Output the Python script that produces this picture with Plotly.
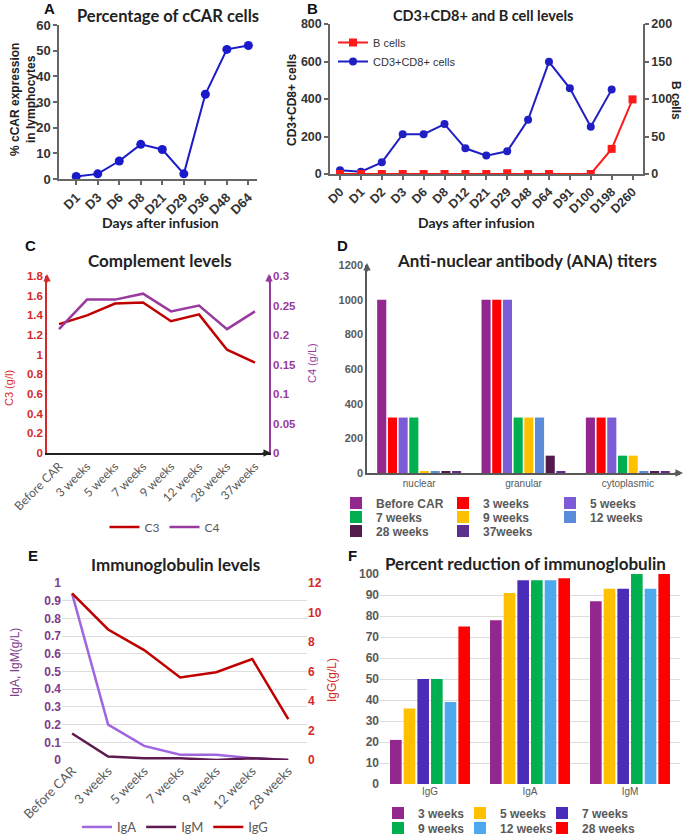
import plotly.graph_objects as go

# ---- data ----
# A: percentage of cCAR cells
a_days = ["D1", "D3", "D6", "D8", "D21", "D29", "D36", "D48", "D64"]
a_ccar = [1, 2, 7, 13.5, 11.5, 2, 33, 50.5, 52]

# B: CD3+CD8+ and B cells
b_days = ["D0", "D1", "D2", "D3", "D6", "D8", "D12", "D21", "D29", "D48",
          "D64", "D91", "D100", "D198", "D260"]
b_cd8 = [20, 12, 62, 212, 212, 266, 137, 98, 121, 289, 598, 457, 252, 450, None]
b_bcells = [0, 0, 0, 0, 0, 0, 0, 0, 1, 0, 0, None, 0, 33.5, 99.5]

# C: complement
c_weeks = ["Before CAR", "3 weeks", "5 weeks", "7 weeks", "9 weeks",
           "12 weeks", "28 weeks", "37weeks"]
c3 = [1.31, 1.40, 1.52, 1.53, 1.34, 1.41, 1.05, 0.92]
c4 = [0.21, 0.26, 0.26, 0.27, 0.24, 0.25, 0.21, 0.24]

# D: ANA titers
d_patterns = ["nuclear", "granular", "cytoplasmic"]
d_before_car = [1000, 1000, 320]
d_3w = [320, 1000, 320]
d_5w = [320, 1000, 320]
d_7w = [320, 320, 100]
d_9w = [10, 320, 100]
d_12w = [10, 320, 10]
d_28w = [10, 100, 10]
d_37w = [10, 10, 10]

# E: immunoglobulin levels
e_weeks = ["Before CAR", "3 weeks", "5 weeks", "7 weeks", "9 weeks",
           "12 weeks", "28 weeks"]
e_iga = [0.94, 0.20, 0.08, 0.03, 0.03, 0.01, 0.0]
e_igm = [0.15, 0.02, 0.01, 0.01, 0.0, 0.01, 0.0]
e_igg = [11.3, 8.85, 7.45, 5.6, 5.95, 6.85, 2.77]

# F: percent reduction
f_igs = ["IgG", "IgA", "IgM"]
f_3w = [21, 78, 87]
f_5w = [36, 91, 93]
f_7w = [50, 97, 93]
f_9w = [50, 97, 100]
f_12w = [39, 97, 93]
f_28w = [75, 98, 100]

W, H = 685, 837


def px(x):
    return x / W


def py(y):
    return 1 - y / H


ARIAL = "Liberation Sans, Arial, sans-serif"
CAL = "Lato, Calibri, sans-serif"
GRAY = "#595959"

fig = go.Figure()

# A
fig.add_trace(go.Scatter(x=a_days, y=a_ccar, mode="lines+markers",
                         line=dict(color="#1a1acc", width=2),
                         marker=dict(size=9, color="#1a1acc"),
                         xaxis="x", yaxis="y", showlegend=False))

# B
fig.add_trace(go.Scatter(x=b_days, y=b_cd8, name="CD3+CD8+ cells",
                         mode="lines+markers",
                         line=dict(color="#1f1fc4", width=2),
                         marker=dict(size=8, color="#1f1fc4"),
                         xaxis="x2", yaxis="y2", legend="legend", legendrank=2))
fig.add_trace(go.Scatter(x=b_days, y=b_bcells, name="B cells",
                         mode="lines+markers", connectgaps=True,
                         line=dict(color="#ff1a1a", width=2),
                         marker=dict(size=8, color="#ff1a1a", symbol="square"),
                         xaxis="x2", yaxis="y3", legend="legend", legendrank=1))

# C
fig.add_trace(go.Scatter(x=c_weeks, y=c3, name="C3", mode="lines",
                         line=dict(color="#c00000", width=2.5),
                         xaxis="x3", yaxis="y4", legend="legend2"))
fig.add_trace(go.Scatter(x=c_weeks, y=c4, name="C4", mode="lines",
                         line=dict(color="#983a9e", width=2.5),
                         xaxis="x3", yaxis="y5", legend="legend2"))

# D
d_series = [
    ("Before CAR", d_before_car, "#92278f", "legend3"),
    ("3 weeks", d_3w, "#ff0000", "legend3"),
    ("5 weeks", d_5w, "#7b5bd6", "legend3"),
    ("7 weeks", d_7w, "#00b050", "legend4"),
    ("9 weeks", d_9w, "#ffc000", "legend4"),
    ("12 weeks", d_12w, "#5b8bdb", "legend4"),
    ("28 weeks", d_28w, "#531b4b", "legend5"),
    ("37weeks", d_37w, "#5d2e8c", "legend5"),
]
for name, vals, col, leg in d_series:
    fig.add_trace(go.Bar(x=d_patterns, y=vals, name=name, marker_color=col,
                         xaxis="x4", yaxis="y6", legend=leg))

# E
fig.add_trace(go.Scatter(x=e_weeks, y=e_iga, name="IgA", mode="lines",
                         line=dict(color="#a066e0", width=2.5),
                         xaxis="x5", yaxis="y7", legend="legend6"))
fig.add_trace(go.Scatter(x=e_weeks, y=e_igm, name="IgM", mode="lines",
                         line=dict(color="#5c1a4f", width=2.5),
                         xaxis="x5", yaxis="y7", legend="legend6"))
fig.add_trace(go.Scatter(x=e_weeks, y=e_igg, name="IgG", mode="lines",
                         line=dict(color="#c00000", width=2.5),
                         xaxis="x5", yaxis="y8", legend="legend6"))

# F (one legend per entry so the 3x2 grid can be placed tightly)
f_series = [
    ("3 weeks", f_3w, "#92278f", "legend7"),
    ("5 weeks", f_5w, "#ffc000", "legend8"),
    ("7 weeks", f_7w, "#4a2cb8", "legend9"),
    ("9 weeks", f_9w, "#00b050", "legend10"),
    ("12 weeks", f_12w, "#4da8ee", "legend11"),
    ("28 weeks", f_28w, "#ff0000", "legend12"),
]
for name, vals, col, leg in f_series:
    fig.add_trace(go.Bar(x=f_igs, y=vals, name=name, marker_color=col,
                         xaxis="x6", yaxis="y9", legend=leg))

tick_a = dict(family=ARIAL, size=13, color="#333333", weight="bold")
tick_b = dict(family=ARIAL, size=12.5, color="#333333", weight="bold")
axline = dict(showline=True, linecolor="#666666", linewidth=1.5,
              ticks="outside", ticklen=4, tickwidth=1.5, tickcolor="#666666",
              showgrid=False, zeroline=False, automargin=False)
plain = dict(automargin=False, zeroline=False)

layout_axes = dict(
    # A
    xaxis=dict(domain=[px(59), px(257)], anchor="y", type="category",
               range=[-0.8, 8.4], tickangle=-45, tickfont=tick_a, **axline),
    yaxis=dict(domain=[py(179), py(25)], anchor="x", range=[0, 60], dtick=10,
               tickfont=tick_a, **axline),
    # B
    xaxis2=dict(domain=[px(330), px(643)], anchor="y2", type="category",
                range=[-0.48, 14.5], tickangle=-45, tickfont=tick_b, **axline),
    yaxis2=dict(domain=[py(174), py(24)], anchor="x2", range=[0, 800], dtick=200,
                tickfont=tick_b, **axline),
    yaxis3=dict(overlaying="y2", anchor="x2", side="right", range=[0, 200],
                dtick=50, tickfont=tick_b, **axline),
    # C
    xaxis3=dict(domain=[px(47), px(269)], anchor="y4", type="category",
                range=[-0.43, 7.5], tickangle=-45, showline=True,
                linecolor="#222222", linewidth=1.5, showgrid=False,
                tickfont=dict(family=CAL, size=12, color=GRAY), **plain),
    yaxis4=dict(domain=[py(453), py(276)], anchor="x3", range=[0, 1.8],
                dtick=0.2, showline=True, linecolor="#d42a2a", linewidth=1.5,
                showgrid=False,
                tickfont=dict(family=ARIAL, size=11.5, color="#d42a2a", weight="bold"),
                **plain),
    yaxis5=dict(overlaying="y4", anchor="x3", side="right", range=[0, 0.3],
                dtick=0.05, showline=True, linecolor="#983a9e", linewidth=1.5,
                showgrid=False,
                tickfont=dict(family=ARIAL, size=11.5, color="#983a9e", weight="bold"),
                **plain),
    # D
    xaxis4=dict(domain=[px(367), px(680)], anchor="y6", type="category",
                showline=True, linecolor="#595959", linewidth=1.5, showgrid=False,
                tickfont=dict(family=ARIAL, size=10, color=GRAY), **plain),
    yaxis6=dict(domain=[py(473), py(265)], anchor="x4", range=[0, 1200],
                dtick=200, showline=True, linecolor="#595959", linewidth=1.5,
                showgrid=False,
                tickfont=dict(family=ARIAL, size=11, color=GRAY, weight="bold"),
                **plain),
    # E
    xaxis5=dict(domain=[px(62), px(307)], anchor="y7", type="category",
                range=[-0.28, 6.52], tickangle=-45, showgrid=False,
                tickfont=dict(family=CAL, size=13, color=GRAY), **plain),
    yaxis7=dict(domain=[py(760), py(583)], anchor="x5", range=[0, 1],
                dtick=0.1, showgrid=True, gridcolor="#dddddd",
                tickfont=dict(family=ARIAL, size=12, color="#7e3a8c", weight="bold"),
                **plain),
    yaxis8=dict(overlaying="y7", anchor="x5", side="right", range=[0, 12],
                dtick=2, showgrid=False,
                tickfont=dict(family=ARIAL, size=12, color="#d42a2a", weight="bold"),
                **plain),
    # F
    xaxis6=dict(domain=[px(380), px(680)], anchor="y9", type="category",
                showgrid=False,
                tickfont=dict(family=ARIAL, size=10, color=GRAY), **plain),
    yaxis9=dict(domain=[py(784), py(574)], anchor="x6", range=[0, 100],
                dtick=10, showgrid=True, gridcolor="#dddddd",
                tickfont=dict(family=ARIAL, size=12, color=GRAY, weight="bold"),
                **plain),
)

leg_common = dict(bgcolor="rgba(0,0,0,0)", orientation="h", xanchor="left",
                  yanchor="middle")
legfont = dict(family=ARIAL, size=12, color=GRAY, weight="bold")
legends = dict(
    legend=dict(x=px(333), y=py(28), xanchor="left", yanchor="top",
                orientation="v", bgcolor="rgba(0,0,0,0)",
                font=dict(family=ARIAL, size=11, color="#333333")),
    legend2=dict(x=px(165), y=py(527), xanchor="center", yanchor="middle",
                 orientation="h", bgcolor="rgba(0,0,0,0)",
                 font=dict(family=CAL, size=12, color=GRAY)),
    legend3=dict(x=px(336), y=py(503), entrywidth=62, font=legfont, **leg_common),
    legend4=dict(x=px(336), y=py(517), entrywidth=62, font=legfont, **leg_common),
    legend5=dict(x=px(336), y=py(531), entrywidth=62, font=legfont, **leg_common),
    legend6=dict(x=px(175), y=py(827), xanchor="center", yanchor="middle",
                 orientation="h", bgcolor="rgba(0,0,0,0)",
                 font=dict(family=CAL, size=13, color=GRAY)),
)
# F legend grid: text start x, row y
for leg, tx, ty in [("legend7", 418, 813), ("legend8", 500, 813),
                    ("legend9", 582, 813), ("legend10", 418, 828),
                    ("legend11", 500, 828), ("legend12", 582, 828)]:
    legends[leg] = dict(x=px(tx - 40), y=py(ty), font=legfont, **leg_common)

ann = []


def text(x, y, s, size=12, color="#222222", family=ARIAL, bold=True, angle=0):
    ann.append(dict(x=px(x), y=py(y), xref="paper", yref="paper", text=s,
                    showarrow=False, textangle=angle, xanchor="center",
                    yanchor="middle",
                    font=dict(family=family, size=size, color=color,
                              weight="bold" if bold else "normal")))


def arrow(x, y, dx, dy, color):
    ann.append(dict(x=px(x), y=py(y), xref="paper", yref="paper", text="",
                    showarrow=True, arrowhead=2, arrowsize=1, arrowwidth=1.5,
                    arrowcolor=color, ax=dx, ay=dy))


# panel letters
for letter, lx, ly in [("A", 50, 9), ("B", 312, 9), ("C", 30, 245),
                       ("D", 342, 245), ("E", 33, 555), ("F", 353, 555)]:
    text(lx, ly, letter, size=15, color="#111111")

# titles
text(168, 16, "Percentage of cCAR cells", size=16.5, family=CAL)
text(483, 16, "CD3+CD8+ and B cell levels", size=14.5, family=CAL)
text(160, 261, "Complement levels", size=17, family=CAL)
text(527, 261, "Anti-nuclear antibody (ANA) titers", size=17, family=CAL)
text(175, 564, "Immunoglobulin levels", size=17, family=CAL)
text(525, 563, "Percent reduction of immunoglobulin", size=17, family=CAL)

# axis titles
text(23, 100, "% cCAR expression<br>in lymphocytes", size=12, angle=-90)
text(160, 222, "Days after infusion", size=14, family=CAL)
text(292, 100, "CD3+CD8+ cells", size=12, angle=-90)
text(676, 100, "B cells", size=12, angle=90)
text(476, 222, "Days after infusion", size=14, family=CAL)
text(9, 388, "C3 (g/l)", size=11, color="#d42a2a", bold=False, angle=-90)
text(312, 363, "C4 (g/L)", size=11, color="#983a9e", bold=False, angle=-90)
text(15, 663, "IgA, IgM(g/L)", size=12, color="#7e3a8c", bold=False, angle=-90)
text(332, 680, "IgG(g/L)", size=12, color="#d42a2a", bold=False, angle=-90)

# axis arrowheads (C, D)
arrow(47, 274, 0, 10, "#d42a2a")
arrow(269, 274, 0, 10, "#983a9e")
arrow(271, 453, -10, 0, "#222222")
arrow(367, 263, 0, 10, "#595959")
arrow(683, 473, -10, 0, "#595959")

fig.update_layout(
    template="none",
    width=W, height=H,
    margin=dict(l=0, r=0, t=0, b=0, pad=0, autoexpand=False),
    paper_bgcolor="white", plot_bgcolor="white",
    font=dict(family=ARIAL, size=12, color="#333333"),
    barmode="group", bargap=0.18, bargroupgap=0.15,
    annotations=ann, **layout_axes, **legends,
)

# drop the browser's default 8px body margin so the figure fills the window
fig.write_html("out.html", config={"displayModeBar": False},
               post_script="document.body.style.margin = '0';")
